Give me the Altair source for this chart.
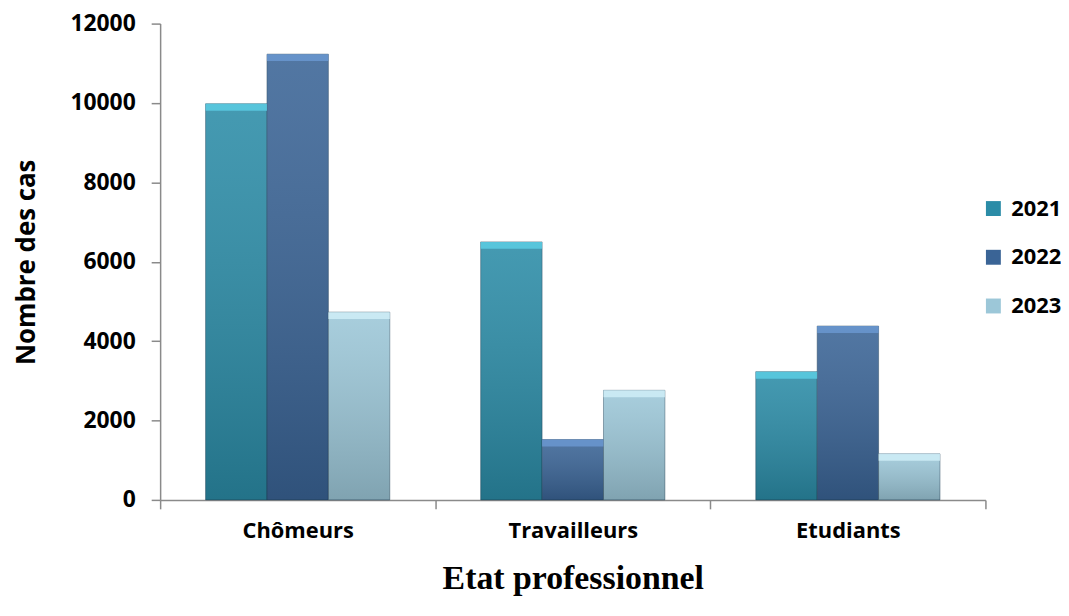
import altair as alt
import pandas as pd

categories = ["Chômeurs", "Travailleurs", "Etudiants"]
years = ["2021", "2022", "2023"]
values_2021 = [9980, 6500, 3230]
values_2022 = [11230, 1520, 4380]
values_2023 = [4730, 2760, 1160]
y_ticks = [0, 2000, 4000, 6000, 8000, 10000, 12000]

rows = []
for series, vals in zip(years, [values_2021, values_2022, values_2023]):
    for c, v in zip(categories, vals):
        rows.append({"cat": c, "year": series, "value": v})
df = pd.DataFrame(rows)

base_colors = ["#2B8CA7", "#3A6496", "#9CC7D8"]
top_colors = ["#5CCFE6", "#6C9AD3", "#D2F0F9"]

AX = "#8a8a8a"
SANS = "Open Sans"

x = alt.X(
    "cat:N", sort=categories,
    scale=alt.Scale(paddingInner=0, paddingOuter=0),
    axis=alt.Axis(
        title="Etat professionnel", labelAngle=0, tickBand="extent",
        labelFont=SANS, labelFontSize=22, labelFontWeight="bold", labelColor="#000",
        labelPadding=12, tickSize=9, tickColor=AX, domainColor=AX,
        domainWidth=1.5, tickWidth=1.5,
        titleFont="Liberation Serif", titleFontSize=34, titleFontWeight="bold",
        titleColor="#000", titlePadding=20,
    ),
)
xoff = alt.XOffset("year:N", sort=years, scale=alt.Scale(paddingInner=0, paddingOuter=0.74))
y = alt.Y(
    "value:Q",
    scale=alt.Scale(domain=[0, 12000], nice=False),
    axis=alt.Axis(
        values=y_ticks, format="d", grid=False, title="Nombre des cas",
        labelFont=SANS, labelFontSize=23, labelFontWeight="bold", labelColor="#000",
        labelPadding=16, tickSize=9, tickColor=AX, domainColor=AX,
        domainWidth=1.5, tickWidth=1.5,
        titleFont=SANS, titleFontSize=26, titleFontWeight="bold", titleColor="#000",
        titlePadding=31,
    ),
)

bars = alt.Chart(df).mark_bar(stroke="#1f3f55", strokeOpacity=0.45, strokeWidth=1).encode(
    x=x, xOffset=xoff, y=y,
    color=alt.Color(
        "year:N", sort=years,
        scale=alt.Scale(domain=years, range=base_colors),
        legend=alt.Legend(
            title=None, orient="none", legendX=827, legendY=175,
            symbolType="square", symbolSize=225, symbolStrokeWidth=0, symbolOpacity=1,
            labelFont=SANS, labelFontSize=22, labelFontWeight="bold", labelColor="#000",
            rowPadding=27, labelOffset=7, padding=0,
        ),
    ),
)

shade = alt.Chart(df).mark_bar(
    fill=alt.Gradient(
        gradient="linear",
        stops=[
            alt.GradientStop(color="rgba(255,255,255,0.12)", offset=0),
            alt.GradientStop(color="rgba(0,0,0,0.18)", offset=1),
        ],
        x1=0, x2=0, y1=0, y2=1,
    )
).encode(x=x, xOffset=xoff, y=y)

top = alt.Chart(df).mark_bar(y2Offset=7, opacity=0.8).encode(
    x=x, xOffset=xoff, y=y, y2=alt.Y2("value:Q"),
    color=alt.Color("year:N", sort=years, scale=alt.Scale(domain=years, range=top_colors), legend=None),
)

chart = (
    alt.layer(bars, shade, top)
    .resolve_scale(color="independent")
    .properties(
        width=830, height=479,
        padding={"left": 153, "top": 14, "right": 76, "bottom": 100},
        autosize=alt.AutoSizeParams(type="none"),
        background="white",
    )
    .configure_view(stroke=None)
)

chart.save("out.html", embed_options={"renderer": "svg", "actions": False})
